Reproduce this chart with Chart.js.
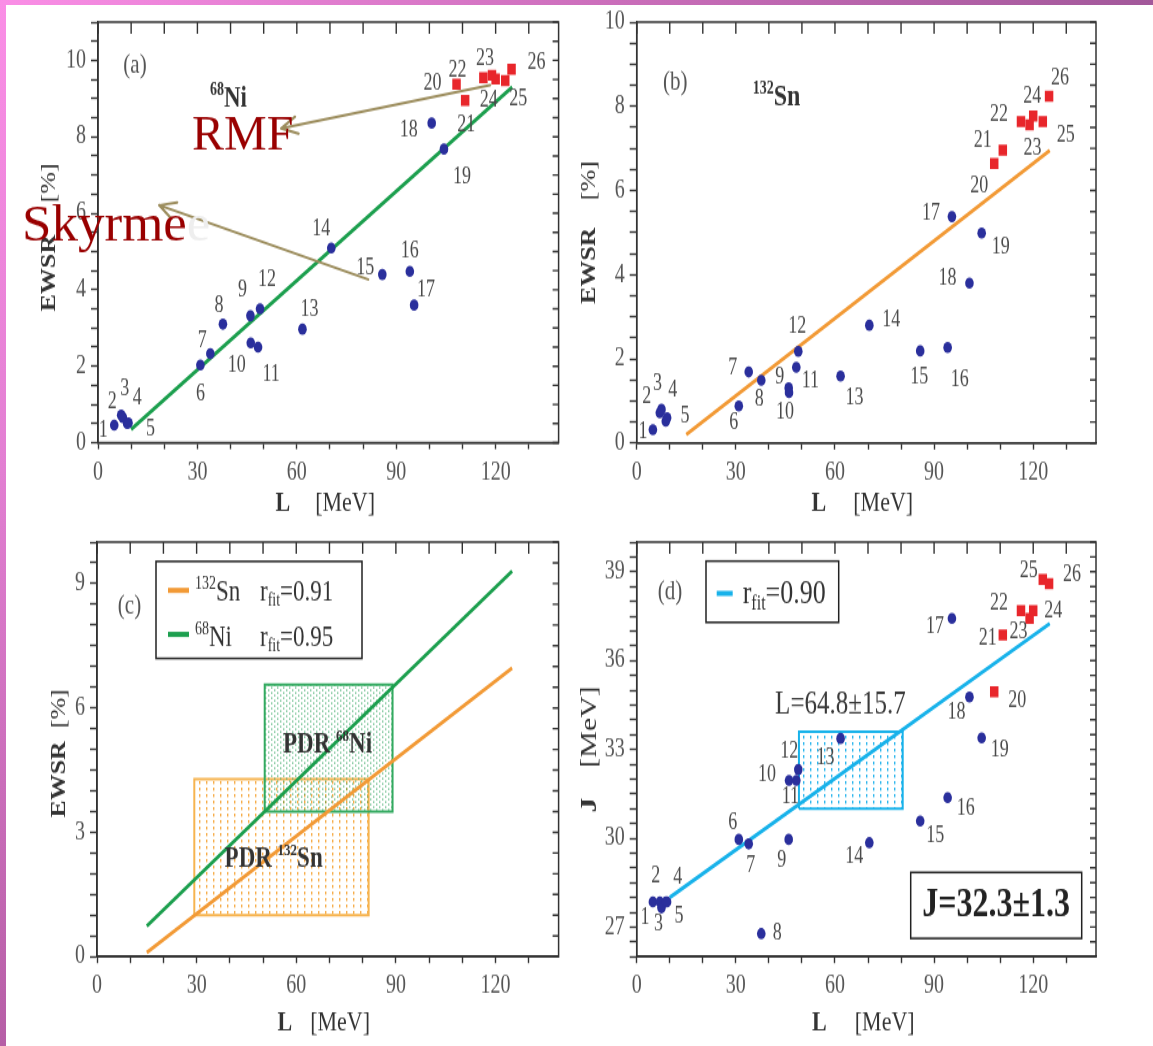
<!DOCTYPE html>
<html>
<head>
<meta charset="utf-8">
<title>PDR strength and symmetry energy vs L</title>
<script src="https://cdn.jsdelivr.net/npm/chart.js@4.4.1/dist/chart.umd.min.js"></script>
<style>
  body { margin: 0; background: #fff; }
  #page { position: relative; width: 1153px; height: 1046px; overflow: hidden; background: #fff; }
  #page canvas { position: absolute; }
  .edge-top { position: absolute; left: 0; top: 0; width: 1153px; height: 5px;
              background: linear-gradient(to right, #fa8ee6, #c96db9 55%, #a2589a); }
  .edge-left { position: absolute; left: 0; top: 0; width: 6px; height: 1046px;
               background: linear-gradient(to bottom, #fa8ee6, #e27fd2 45%, #b65ea6); }
</style>
</head>
<body>
<div id="page">
  <canvas id="panelA" width="576" height="400" style="left:0;top:0;width:576px;height:520px"></canvas>
  <canvas id="panelB" width="577" height="400" style="left:576px;top:0;width:577px;height:520px"></canvas>
  <canvas id="panelC" width="576" height="405" style="left:0;top:520px;width:576px;height:526px"></canvas>
  <canvas id="panelD" width="577" height="405" style="left:576px;top:520px;width:577px;height:526px"></canvas>
  <div class="edge-top"></div>
  <div class="edge-left"></div>
</div>
<script>
// ---- data: 26 interactions, 1-19 Skyrme, 20-26 RMF ----
const modelIds = ["1", "2", "3", "4", "5", "6", "7", "8", "9", "10", "11", "12", "13",
                  "14", "15", "16", "17", "18", "19", "20", "21", "22", "23", "24", "25", "26"];
const nSkyrme = 19;

// slope of the symmetry energy L [MeV]
const slopeL = [4.9, 7.0, 7.5, 8.8, 9.2, 30.9, 33.9, 37.7, 46.0, 46.1, 48.3, 48.9, 61.7,
                70.4, 85.8, 94.1, 95.4, 100.7, 104.4, 108.2, 110.8, 116.3, 118.9, 120.0, 122.9, 124.8];
// PDR strength, % of EWSR
const ewsrNi = [0.46, 0.72, 0.66, 0.50, 0.52, 2.03, 2.33, 3.10, 3.32, 2.61, 2.50, 3.50, 2.97,
                5.09, 4.40, 4.48, 3.60, 8.36, 7.68, 9.38, 8.95, 9.55, 9.61, 9.51, 9.47, 9.77];
const ewsrSn = [0.32, 0.72, 0.80, 0.52, 0.60, 0.88, 1.69, 1.49, 1.31, 1.20, 1.80, 2.18, 1.59,
                2.80, 2.19, 2.27, 5.38, 3.80, 4.99, 6.64, 6.96, 7.64, 7.56, 7.77, 7.64, 8.24];
// symmetry energy J [MeV]
const symJ = [27.85, 27.85, 27.65, 27.85, 27.85, 29.96, 29.81, 26.78, 29.96, 31.95, 31.95, 32.32, 33.37,
              29.85, 30.58, 31.37, 37.42, 34.77, 33.39, 34.95, 36.86, 37.69, 37.42, 37.69, 38.74, 38.60];

// linear fits (end points)
const fitNiL = [10, 125], fitNiA = [0.35, 9.30];
const fitNiLc = [15, 125], fitNiC = [0.74, 9.30];
const fitSnL = [15, 125], fitSnB = [0.20, 6.95], fitSnC = [0.10, 6.96];
const fitJL = [10, 125], fitJ = [28.0, 37.25];
const rfitSn = "0.91", rfitNi = "0.95", rfitJ = "0.90";

// experimental PDR bands and the resulting constraint
const pdrNiL = [50.5, 89.0], pdrNiE = [3.5, 6.56];
const pdrSnL = [29.3, 81.8], pdrSnE = [1.0, 4.28];
const constrL = [64.8, 15.7], constrJ = [32.3, 1.3];

// tick labels
const xTickLabels = [0, 30, 60, 90, 120];
const yTickLabelsA = [0, 2, 4, 6, 8, 10];
const yTickLabelsB = [0, 2, 4, 6, 8, 10];
const yTickLabelsC = [0, 3, 6, 9];
const yTickLabelsD = [27, 30, 33, 36, 39];

// ---- label placement (screen px relative to the marker) ----
const shiftA = [[-11, 6], [-9, -13], [2, -29], [10, -25], [22, 6], [0, 29], [-8, -13], [-4, -18], [-8, -26],
  [-14, 23], [13, 28], [7, -29], [7, -20], [-10, -19], [-17, -6], [0, -20], [12, -15], [-23, 7], [18, 28],
  [-24, 0], [1, 25], [-26, -7], [-7, -17], [-7, 22], [13, 18], [25, -6]];
const shiftB = [[-10, 2], [-13, -16], [-4, -26], [7, -31], [18, -1], [-5, 17], [-16, -4], [-2, 19], [-9, -11],
  [-4, 20], [14, 14], [-1, -24], [14, 22], [22, -5], [-1, 27], [12, 33], [-21, -3], [-22, -4], [19, 15],
  [-15, 23], [-20, -9], [-22, -7], [3, 24], [-1, -20], [23, 14], [11, -18]];
const shiftD = [[-8, 16], [-4, -26], [-3, 17], [12, -25], [12, 15], [-6, -17], [2, 22], [16, 0], [-7, 21],
  [-22, -5], [-6, 17], [-9, -18], [-15, 20], [-15, 14], [15, 15], [18, 11], [-17, 8], [-13, 16], [18, 13],
  [23, 9], [-15, 4], [-22, -7], [-11, 13], [20, 1], [-14, -8], [23, -8]];

// ---- style ----
const SERIF = '"Liberation Serif", "DejaVu Serif", serif';
const INK = '#333333';
const NUM = '#555555';
const BLUE = '#2a2f9c';
const RED = '#e8262b';
const GREEN = '#1c9f4e';
const ORANGE = '#f29a36';
const CYAN = '#18b2ea';
const font = (size, bold) => (bold ? 'bold ' : '') + size + 'px ' + SERIF;

function dotPattern(w, h, color, dots) {
  const c = document.createElement('canvas');
  c.width = w; c.height = h;
  const g = c.getContext('2d');
  g.fillStyle = color;
  dots.forEach(d => g.fillRect(d[0], d[1], d[2], d[3]));
  return g.createPattern(c, 'repeat');
}

function pointsOf(ys, from, to) {
  const out = [];
  for (let i = from; i < to; i++) out.push({ x: slopeL[i], y: ys[i] });
  return out;
}
function fitLine(xs, ys) {
  return xs.map((x, i) => ({ x, y: ys[i] }));
}
function boxPath(xr, yr) {
  return [{ x: xr[0], y: yr[0] }, { x: xr[1], y: yr[0] }, { x: xr[1], y: yr[1] },
          { x: xr[0], y: yr[1] }, { x: xr[0], y: yr[0] }];
}

function skyrmeSet(ys) {
  return { data: pointsOf(ys, 0, nSkyrme), labelStart: 0, pointStyle: 'circle', pointRadius: 4.3,
           backgroundColor: BLUE, borderColor: BLUE, borderWidth: 0, order: 0 };
}
function rmfSet(ys) {
  return { data: pointsOf(ys, nSkyrme, slopeL.length), labelStart: nSkyrme, pointStyle: 'rect',
           pointRadius: 6, backgroundColor: RED, borderColor: RED, borderWidth: 0, order: 0 };
}
function lineSet(data, color) {
  return { type: 'line', data, borderColor: color, borderWidth: 3, pointRadius: 0, fill: false,
           tension: 0, order: 1 };
}
function bandSet(data, color, pattern, order) {
  return { type: 'line', data, borderColor: color, borderWidth: 2, pointRadius: 0, tension: 0,
           fill: 'shape', backgroundColor: pattern, order };
}

// draws a row of text pieces (superscripts, subscripts, mixed weights)
function textRuns(ctx, x, y, runs, align) {
  let w = 0;
  runs.forEach(r => {
    if (r.gap) { w += r.gap; return; }
    ctx.font = r.font; w += ctx.measureText(r.text).width;
  });
  let cx = align === 'center' ? x - w / 2 : x;
  ctx.textAlign = 'left';
  runs.forEach(r => {
    if (r.gap) { cx += r.gap; return; }
    ctx.font = r.font;
    ctx.fillStyle = r.color || INK;
    ctx.fillText(r.text, cx, y + (r.dy || 0));
    cx += ctx.measureText(r.text).width;
  });
}

function axes(yMin, yMax, yLabels, geo) {
  const onList = (list) => (v) => list.some(t => Math.abs(t - v) < 1e-6) ? v : '';
  return {
    x: {
      type: 'linear', min: 0, max: 139,
      afterFit: s => { s.height = geo.xh; },
      ticks: { stepSize: 10, includeBounds: false, autoSkip: false, maxRotation: 0, padding: 6,
               color: NUM, font: { family: SERIF, size: 20 }, callback: onList(xTickLabels) },
      grid: { drawOnChartArea: false, tickLength: 5, color: '#333', tickWidth: 1.4 },
      border: { color: '#333', width: 1.5 }
    },
    y: {
      type: 'linear', min: yMin, max: yMax,
      afterFit: s => { s.width = geo.yw; },
      ticks: { stepSize: 0.5, includeBounds: false, autoSkip: false, padding: 5,
               color: NUM, font: { family: SERIF, size: 20 }, callback: onList(yLabels) },
      grid: { drawOnChartArea: false, tickLength: 7, color: '#333', tickWidth: 1.4 },
      border: { color: '#333', width: 1.5 }
    }
  };
}

// frame, mirrored ticks, titles, point numbers and panel annotations
function panelDecor(spec) {
  const S = spec.S;
  return {
    id: 'panelDecor',
    afterDatasetsDraw(chart) {
      if (!spec.shift) return;
      const ctx = chart.ctx;
      ctx.save();
      ctx.font = font(18);
      ctx.fillStyle = '#4a4a4a';
      ctx.textAlign = 'center';
      ctx.textBaseline = 'middle';
      chart.data.datasets.forEach((ds, i) => {
        if (ds.labelStart === undefined) return;
        chart.getDatasetMeta(i).data.forEach((pt, j) => {
          const k = ds.labelStart + j;
          const d = spec.shift[k];
          ctx.fillText(modelIds[k], pt.x + d[0], pt.y + d[1] / S);
        });
      });
      ctx.restore();
    },
    afterDraw(chart) {
      const ctx = chart.ctx;
      const a = chart.chartArea;
      const xs = chart.scales.x, ys = chart.scales.y;
      const X = dx => a.left + dx;
      const Y = dy => a.top + dy / S;
      ctx.save();
      // box + inward ticks on top and right
      ctx.strokeStyle = '#333';
      ctx.lineWidth = 1.5;
      ctx.strokeRect(a.left, a.top, a.right - a.left, a.bottom - a.top);
      ctx.lineWidth = 1.4;
      ctx.beginPath();
      xs.ticks.forEach(t => { const px = xs.getPixelForValue(t.value); ctx.moveTo(px, a.top); ctx.lineTo(px, a.top + 9); });
      ys.ticks.forEach(t => { const py = ys.getPixelForValue(t.value); ctx.moveTo(a.right - 6, py); ctx.lineTo(a.right, py); });
      ctx.stroke();

      // panel tag
      ctx.textBaseline = 'middle';
      textRuns(ctx, X(spec.tagAt[0]), Y(spec.tagAt[1]), [{ text: spec.tag, font: font(21), color: '#555' }], 'center');
      ctx.textBaseline = 'alphabetic';
      // x title
      textRuns(ctx, (a.left + a.right) / 2 + spec.xTitle.dx, a.bottom + spec.xTitle.dy / S, spec.xTitle.runs, 'center');
      // y title (rotated)
      ctx.save();
      ctx.translate(a.left + spec.yTitle.dx, (a.top + a.bottom) / 2 + spec.yTitle.dy / S);
      ctx.rotate(-Math.PI / 2);
      ctx.textBaseline = 'middle';
      textRuns(ctx, 0, 0, spec.yTitle.runs, 'center');
      ctx.restore();

      if (spec.extra) spec.extra(ctx, chart, X, Y);
      ctx.restore();
    }
  };
}

function makeChart(id, datasets, scales, pad, spec) {
  return new Chart(document.getElementById(id), {
    type: 'scatter',
    data: { datasets },
    options: {
      responsive: false,
      animation: false,
      events: [],
      layout: { padding: { left: 0, right: pad.right, top: pad.top, bottom: 0 } },
      scales,
      plugins: { legend: { display: false }, tooltip: { enabled: false } }
    },
    plugins: [panelDecor(spec)]
  });
}

const xTitle = (gap, dx, dy) => ({ dx, dy, runs: [
  { text: 'L', font: font(22, true) }, { gap }, { text: '[MeV]', font: font(22) }] });
const ewsrTitle = (gap, dx, dy) => ({ dx, dy, runs: [
  { text: 'EWSR', font: font(20, true) }, { gap }, { text: '[%]', font: font(20) }] });

const S_TOP = 520 / 400;
const S_BOT = 526 / 405;

// arrow drawn in screen proportions on top of the stretched panel
function arrow(ctx, chart, S, from, to) {
  const xs = chart.scales.x, ys = chart.scales.y;
  const x0 = xs.getPixelForValue(from[0]), y0 = ys.getPixelForValue(from[1]) * S;
  const x1 = xs.getPixelForValue(to[0]), y1 = ys.getPixelForValue(to[1]) * S;
  const ang = Math.atan2(y0 - y1, x0 - x1);
  ctx.save();
  ctx.scale(1, 1 / S);
  ctx.strokeStyle = '#9c8d5d';
  ctx.lineWidth = 2.6;
  ctx.lineCap = 'round';
  ctx.beginPath();
  ctx.moveTo(x0, y0); ctx.lineTo(x1, y1);
  [-0.5, 0.5].forEach(s => { ctx.moveTo(x1, y1); ctx.lineTo(x1 + 18 * Math.cos(ang + s), y1 + 18 * Math.sin(ang + s)); });
  ctx.stroke();
  ctx.restore();
}

// ---- (a) 68Ni ----
makeChart('panelA',
  [skyrmeSet(ewsrNi), rmfSet(ewsrNi), lineSet(fitLine(fitNiL, fitNiA), GREEN)],
  axes(0, 11, yTickLabelsA, { xh: 59.5, yw: 98 }),
  { right: 17.4, top: 13.3 },
  {
    S: S_TOP, tag: '(a)', tagAt: [37, 43], shift: shiftA,
    xTitle: xTitle(25, -3, 68), yTitle: ewsrTitle(25, -48, 5),
    extra(ctx, chart, X, Y) {
      textRuns(ctx, X(112), Y(84), [
        { text: '68', font: font(14, true), dy: -9 }, { text: 'Ni', font: font(23, true) }]);
      arrow(ctx, chart, S_TOP, [118.3, 9.35], [55.3, 8.22]);
      arrow(ctx, chart, S_TOP, [81.5, 4.27], [18.5, 6.21]);
      ctx.save();
      ctx.scale(1, 1 / S_TOP);
      ctx.textAlign = 'left';
      ctx.fillStyle = '#990000';
      ctx.font = '48px ' + SERIF;
      ctx.fillText('RMF', 192, 150);
      ctx.font = '53px ' + SERIF;
      ctx.fillText('Skyrme', 22, 241);
      const w = ctx.measureText('Skyrme').width;
      ctx.fillStyle = '#eeeeee';
      ctx.fillText('e', 22 + w, 241);
      ctx.restore();
    }
  });

// ---- (b) 132Sn ----
makeChart('panelB',
  [skyrmeSet(ewsrSn), rmfSet(ewsrSn), lineSet(fitLine(fitSnL, fitSnB), ORANGE)],
  axes(0, 10, yTickLabelsB, { xh: 59.2, yw: 60.7 }),
  { right: 57, top: 13.1 },
  {
    S: S_TOP, tag: '(b)', tagAt: [38.6, 61], shift: shiftB,
    xTitle: xTitle(27, -4, 68), yTitle: ewsrTitle(21, -47, 0),
    extra(ctx, chart, X, Y) {
      textRuns(ctx, X(116), Y(83), [
        { text: '132', font: font(14, true), dy: -9 }, { text: 'Sn', font: font(24, true) }]);
    }
  });

// ---- (c) fits and PDR bands ----
const patSn = dotPattern(7, 5, 'rgba(244,160,45,0.85)', [[3, 1, 1.4, 2.4]]);
const patNi = dotPattern(6, 4, 'rgba(40,160,90,0.75)', [[1, 0.5, 1.4, 1.2], [4, 2.5, 1.4, 1.2]]);
const patJ = dotPattern(7, 5, 'rgba(25,175,235,0.9)', [[3, 1, 1.4, 2.4]]);

makeChart('panelC',
  [lineSet(fitLine(fitNiLc, fitNiC), GREEN), lineSet(fitLine(fitSnL, fitSnC), ORANGE),
   bandSet(boxPath(pdrNiL, pdrNiE), '#33aa60', patNi, 2),
   bandSet(boxPath(pdrSnL, pdrSnE), '#f6b450', patSn, 3)],
  axes(0, 10, yTickLabelsC, { xh: 68.8, yw: 97 }),
  { right: 17.4, top: 16.7 },
  {
    S: S_BOT, tag: '(c)', tagAt: [32.5, 64],
    xTitle: xTitle(18, -4, 73.5), yTitle: ewsrTitle(10, -37, 4),
    extra(ctx, chart, X, Y) {
      // legend
      ctx.strokeStyle = '#222';
      ctx.lineWidth = 1.5;
      ctx.strokeRect(X(59), Y(19.3), 206, (116.3 - 19.3) / S_BOT);
      const rows = [[ORANGE, '132', 'Sn', rfitSn, 48.3, 58.3], [GREEN, '68', 'Ni', rfitNi, 92.3, 103.3]];
      rows.forEach(r => {
        ctx.strokeStyle = r[0];
        ctx.lineWidth = 4;
        ctx.beginPath(); ctx.moveTo(X(71), Y(r[4])); ctx.lineTo(X(92), Y(r[4])); ctx.stroke();
        textRuns(ctx, X(98), Y(r[5]), [
          { text: r[1], font: font(14), dy: -9 }, { text: r[2], font: font(23) }]);
        textRuns(ctx, X(163), Y(r[5]), [
          { text: 'r', font: font(23) }, { text: 'fit', font: font(14), dy: 4 },
          { text: '=' + r[3], font: font(23) }]);
      });
      // band labels
      textRuns(ctx, X(186), Y(210), [
        { text: 'PDR ', font: font(23, true) }, { text: '68', font: font(13, true), dy: -9 },
        { text: 'Ni', font: font(23, true) }]);
      textRuns(ctx, X(127.6), Y(325), [
        { text: 'PDR ', font: font(23, true) }, { text: '132', font: font(13, true), dy: -9 },
        { text: 'Sn', font: font(23, true) }]);
    }
  });

// ---- (d) J vs L ----
makeChart('panelD',
  [skyrmeSet(symJ), rmfSet(symJ), lineSet(fitLine(fitJL, fitJ), CYAN),
   bandSet(boxPath([constrL[0] - constrL[1], constrL[0] + constrL[1]],
                   [constrJ[0] - constrJ[1], constrJ[0] + constrJ[1]]), CYAN, patJ, 2)],
  axes(26, 40, yTickLabelsD, { xh: 68.8, yw: 60.7 }),
  { right: 57, top: 16.7 },
  {
    S: S_BOT, tag: '(d)', tagAt: [33.3, 50], shift: shiftD,
    xTitle: xTitle(28, -3, 73.5),
    yTitle: { dx: -47, dy: 0, runs: [{ text: 'J', font: font(23, true) }, { gap: 23 }, { text: '[MeV]', font: font(23) }] },
    extra(ctx, chart, X, Y) {
      ctx.strokeStyle = '#222';
      ctx.lineWidth = 1.5;
      ctx.strokeRect(X(69.3), Y(19), 132.7, (80.3 - 19) / S_BOT);
      ctx.strokeStyle = CYAN;
      ctx.lineWidth = 4;
      ctx.beginPath(); ctx.moveTo(X(80), Y(51.3)); ctx.lineTo(X(96), Y(51.3)); ctx.stroke();
      textRuns(ctx, X(106), Y(61.5), [
        { text: 'r', font: font(26) }, { text: 'fit', font: font(16), dy: 5 },
        { text: '=' + rfitJ, font: font(26) }]);
      ctx.textBaseline = 'middle';
      textRuns(ctx, X(203.7), Y(163.3), [
        { text: 'L=' + constrL[0] + '\u00b1' + constrL[1], font: font(25), color: '#3a3a3a' }], 'center');
      ctx.strokeStyle = '#222';
      ctx.lineWidth = 1.5;
      ctx.strokeRect(X(274), Y(330.3), 171, (396.3 - 330.3) / S_BOT);
      textRuns(ctx, X(359.5), Y(363.3), [
        { text: 'J=' + constrJ[0] + '\u00b1' + constrJ[1], font: font(32, true), color: '#222' }], 'center');
      ctx.textBaseline = 'alphabetic';
    }
  });
</script>
</body>
</html>
